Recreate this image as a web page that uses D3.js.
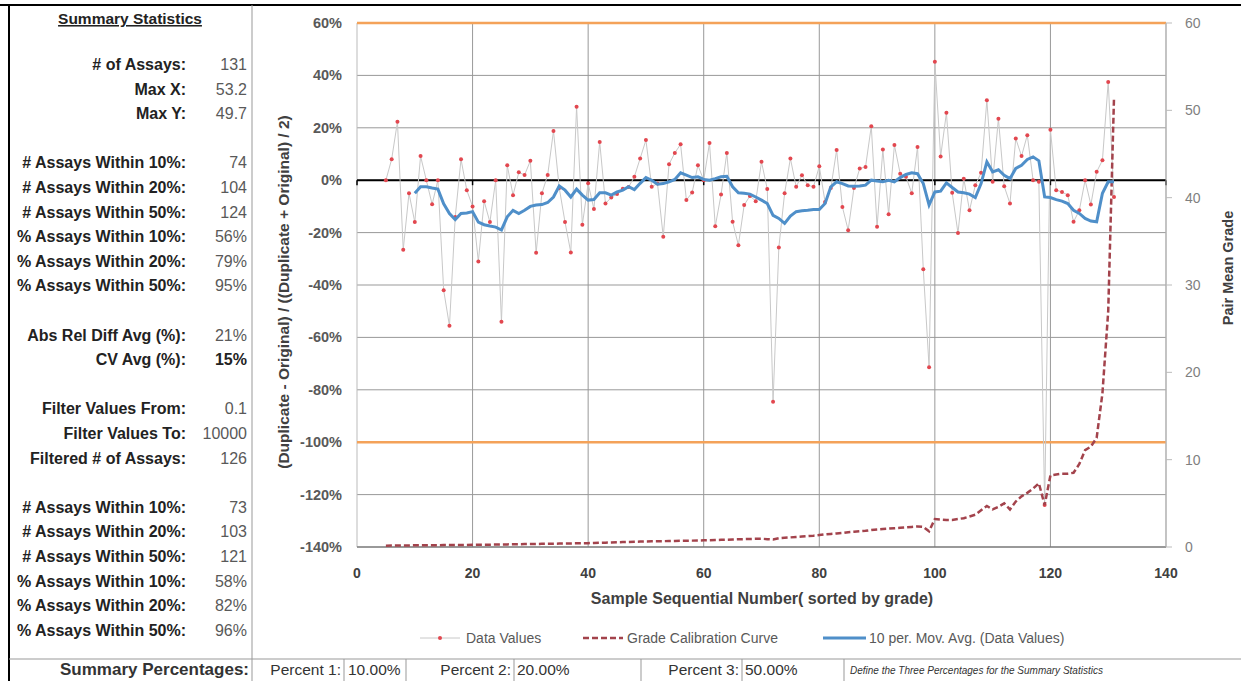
<!DOCTYPE html>
<html>
<head>
<meta charset="utf-8">
<script src="https://cdn.jsdelivr.net/npm/d3@7"></script>
<style>
  body { margin: 0; background: #fff; }
  svg text { font-family: "Liberation Sans", Arial, sans-serif; }
</style>
</head>
<body>
<div id="chart-area"></div>
<script>
// sample numbers 5..131
const sampleX = d3.range(5, 132)
const dataValues = [
  0, 8, 22.3, -26.5, -5, -16, 9.2, 0, -9.2, 0,
  -42, -55.6, -14, 8, -3.8, -10, -31, -8, -16, 0,
  -54, 5.7, -5.7, 3, 2, 7.4, -27.7, -5, 2, 18.8,
  -3, -16, -27.6, 28, -17, -1.2, -11, 14.6, -8.9, -6.6,
  -5.3, -3.3, -2.6, 1.3, 8.3, 15.3, -2.5, -1.3, -21.6, 6.1,
  10.4, 13.7, -7.6, -4.7, 5.7, 0, 14.2, -17.6, -5.5, 10.4,
  -15.9, -24.8, -9.5, -6, -8, 7, -3.4, -84.6, -25.7, -5,
  8.3, -2.5, 1.9, -1.9, -2.5, 5.3, -8.3, -3, 11.5, -10.2,
  -19.1, -3, 4.5, 5, 20.6, -17.8, 11.7, -13, 13.4, 2.5,
  1.3, -5, 12.7, -34, -71.4, 45.2, 9, 25.7, -4.8, -20.2,
  0.6, -11.5, -1.9, 2.8, 30.5, -0.6, 23.5, -2.3, -8.9, 15.9,
  9.2, 17.2, 0, -0.6, -124, 19.3, -3.8, -4.5, -5.7, -15.9,
  -11.5, 0, -9.3, 3.2, 7.6, 37.5, -6.4
]
const gradeCurve = [
  0.15, 0.16, 0.17, 0.18, 0.18, 0.19,
  0.2, 0.2, 0.21, 0.21, 0.22, 0.22, 0.23, 0.23, 0.24, 0.25,
  0.26, 0.27, 0.27, 0.28, 0.29, 0.3, 0.31, 0.32, 0.33, 0.34,
  0.35, 0.36, 0.37, 0.38, 0.39, 0.4, 0.41, 0.42, 0.43, 0.44,
  0.46, 0.48, 0.5, 0.52, 0.54, 0.56, 0.58, 0.6, 0.62, 0.64,
  0.65, 0.66, 0.67, 0.68, 0.7, 0.71, 0.72, 0.73, 0.74, 0.76,
  0.78, 0.8, 0.82, 0.84, 0.86, 0.88, 0.9, 0.92, 0.94, 0.95,
  0.9, 0.85, 1.0, 1.05, 1.1, 1.15, 1.2, 1.25, 1.3, 1.37,
  1.45, 1.5, 1.55, 1.6, 1.7, 1.75, 1.8, 1.85, 1.95, 2.0,
  2.05, 2.1, 2.15, 2.2, 2.25, 2.3, 2.35, 2.3, 1.8, 3.2,
  3.15, 3.1, 3.1, 3.2, 3.3, 3.5, 3.7, 4.2, 4.7, 4.3,
  4.6, 5.0, 4.3, 5.2, 5.8, 6.2, 6.7, 7.3, 4.8, 8.2,
  8.3, 8.4, 8.4, 8.5, 9.5, 11.1, 11.5, 12.5, 17.6, 27, 51.4
]
// moving average, samples 10..131
const movAvgX = d3.range(10, 132)
const movAvg = [
  -5, -2.5, -2.5, -3, -3.4, -9, -12.7, -15, -12.7, -12.5,
  -12, -16, -17, -17.5, -17.9, -19, -14, -11.5, -12.7, -11.5,
  -10, -9.5, -9.3, -8.5, -6.4, -2.2, -3.8, -6.4, -3.4, -5.7,
  -7.6, -7.4, -4.8, -4.8, -5.7, -4.5, -3.8, -2.5, -3.6, -1.2,
  1, 0, -1.5, -1.3, -0.6, 0.3, 2.8, 1.9, 1, 1.3,
  0.3, 0, 0.6, 1.3, 1.5, -2.5, -4.8, -5, -5.3, -6.4,
  -7.6, -8.9, -13.4, -14.6, -16.5, -13.7, -12, -11.7, -11.5, -11.2,
  -11.2, -8.9, -2.5, -0.6, -1.3, -2.2, -2.3, -2.2, -1.9, 0,
  -0.3, -0.6, 0, -0.6, 1, 2.2, 2.8, 2.5, -1.3, -9.5,
  -4.5, -4.2, -1, -2.8, -4.5, -4.8, -5.3, -6.6, -1.3, 7,
  3.2, 4, 1.9, 0.6, 4.5, 5.7, 7.9, 8.9, 7.4, -6.4,
  -6.6, -7.4, -8, -8.9, -11.5, -12.7, -14.6, -15.6, -15.9, -5,
  -0.6, -0.6
]
const limitLines = [60, -100]
const xTicks = [0, 20, 40, 60, 80, 100, 120, 140]
const yTicks = [60, 40, 20, 0, -20, -40, -60, -80, -100, -120, -140]
const y2Ticks = [0, 10, 20, 30, 40, 50, 60]

const statLabels = ["# of Assays:", "Max X:", "Max Y:", "", "# Assays Within 10%:", "# Assays Within 20%:", "# Assays Within 50%:",
  "% Assays Within 10%:", "% Assays Within 20%:", "% Assays Within 50%:", "", "Abs Rel Diff Avg (%):", "CV Avg (%):", "",
  "Filter Values From:", "Filter Values To:", "Filtered # of Assays:", "", "# Assays Within 10%:", "# Assays Within 20%:",
  "# Assays Within 50%:", "% Assays Within 10%:", "% Assays Within 20%:", "% Assays Within 50%:"]
const statValues = ["131", "53.2", "49.7", "", "74", "104", "124", "56%", "79%", "95%", "", "21%", "15%", "",
  "0.1", "10000", "126", "", "73", "103", "121", "58%", "82%", "96%"]
const pctLabels = ["Percent 1:", "Percent 2:", "Percent 3:"]
const pctValues = ["10.00%", "20.00%", "50.00%"]

const W = 1241, H = 681
const svg = d3.select("#chart-area").append("svg")
    .attr("width", W)
    .attr("height", H)

const x = d3.scaleLinear().domain([0, 140]).range([357, 1166])
const y = d3.scaleLinear().domain([-140, 60]).range([547, 23])
const y2 = d3.scaleLinear().domain([0, 60]).range([547, 23])

// sheet frame
svg.append("line").attr("x1", 0).attr("x2", W).attr("y1", 5).attr("y2", 5).attr("stroke", "#000").attr("stroke-width", 2)
svg.append("line").attr("x1", 9).attr("x2", 9).attr("y1", 5).attr("y2", H).attr("stroke", "#000").attr("stroke-width", 2)
svg.append("line").attr("x1", 252).attr("x2", 252).attr("y1", 5).attr("y2", H).attr("stroke", "#999")
svg.append("line").attr("x1", 9).attr("x2", W).attr("y1", 659).attr("y2", 659).attr("stroke", "#999")

// summary panel
svg.append("text").attr("x", 130).attr("y", 24).attr("text-anchor", "middle")
    .attr("font-size", 15.5).attr("font-weight", "bold").attr("fill", "#222")
    .attr("text-decoration", "underline").text("Summary Statistics")
const rows = svg.append("g")
statLabels.forEach((d, i) => {
  if (!d) return
  const yy = 70 + i * 24.6
  rows.append("text").attr("x", 186).attr("y", yy).attr("text-anchor", "end")
      .attr("font-size", 16).attr("font-weight", "bold").attr("fill", "#222").text(d)
  rows.append("text").attr("x", 247).attr("y", yy).attr("text-anchor", "end")
      .attr("font-size", 16).attr("font-weight", d.startsWith("CV") ? "bold" : "normal")
      .attr("fill", d.startsWith("CV") ? "#222" : "#595959").text(statValues[i])
})

// gridlines
const grid = svg.append("g")
grid.selectAll(".hg").data(yTicks).enter().append("line")
    .attr("x1", x(0)).attr("x2", x(140)).attr("y1", d => y(d)).attr("y2", d => y(d))
    .attr("stroke", "#999")
grid.selectAll(".vg").data(xTicks.slice(1)).enter().append("line")
    .attr("x1", d => x(d)).attr("x2", d => x(d)).attr("y1", y(60)).attr("y2", y(-140))
    .attr("stroke", "#999")
grid.append("line").attr("x1", x(0)).attr("x2", x(0)).attr("y1", y(60)).attr("y2", y(-140)).attr("stroke", "#bbb")
grid.append("line").attr("x1", x(0)).attr("x2", x(140)).attr("y1", y(-140)).attr("y2", y(-140)).attr("stroke", "#666")

// orange limit lines
svg.selectAll(".lim").data(limitLines).enter().append("line")
    .attr("x1", x(0)).attr("x2", x(140)).attr("y1", d => y(d)).attr("y2", d => y(d))
    .attr("stroke", "#f4a259").attr("stroke-width", 2.5)

// zero line
svg.append("line").attr("x1", x(0)).attr("x2", x(140)).attr("y1", y(0)).attr("y2", y(0))
    .attr("stroke", "#000").attr("stroke-width", 2)
svg.selectAll(".zt").data(xTicks).enter().append("line")
    .attr("x1", d => x(d)).attr("x2", d => x(d)).attr("y1", y(0)).attr("y2", y(0) + 5)
    .attr("stroke", "#000").attr("stroke-width", 1.5)

// left axis
svg.append("g").selectAll("text").data(yTicks).enter().append("text")
    .attr("x", 342).attr("y", d => y(d) + 5).attr("text-anchor", "end")
    .attr("font-size", 14.5).attr("font-weight", "bold").attr("fill", "#595959")
    .text(d => d + "%")
// right axis
const ra = svg.append("g")
ra.append("line").attr("x1", x(140)).attr("x2", x(140)).attr("y1", y2(60)).attr("y2", y2(0)).attr("stroke", "#bbb")
ra.selectAll("line.t").data(y2Ticks).enter().append("line")
    .attr("x1", x(140)).attr("x2", x(140) + 6).attr("y1", d => y2(d)).attr("y2", d => y2(d)).attr("stroke", "#bbb")
ra.selectAll("text").data(y2Ticks).enter().append("text")
    .attr("x", 1185).attr("y", d => y2(d) + 5)
    .attr("font-size", 14).attr("fill", "#7f7f7f").text(d => d)
// x axis labels
svg.append("g").selectAll("text").data(xTicks).enter().append("text")
    .attr("x", d => x(d)).attr("y", 578).attr("text-anchor", "middle")
    .attr("font-size", 14).attr("font-weight", "bold").attr("fill", "#404040").text(d => d)

svg.append("text").attr("x", 762).attr("y", 604).attr("text-anchor", "middle")
    .attr("font-size", 16).attr("font-weight", "bold").attr("fill", "#404040")
    .text("Sample  Sequential Number( sorted by grade)")
svg.append("text").attr("transform", "translate(289,292) rotate(-90)").attr("text-anchor", "middle")
    .attr("font-size", 15.5).attr("font-weight", "bold").attr("fill", "#404040")
    .text("(Duplicate - Original) / ((Duplicate + Original) / 2)")
svg.append("text").attr("transform", "translate(1233,268) rotate(-90)").attr("text-anchor", "middle")
    .attr("font-size", 14.5).attr("font-weight", "bold").attr("fill", "#404040")
    .text("Pair Mean Grade")

// series
const dataPts = sampleX.map((d, i) => [d, dataValues[i]])
const curvePts = sampleX.map((d, i) => [d, gradeCurve[i]])
const avgPts = movAvgX.map((d, i) => [d, movAvg[i]])

svg.append("path").datum(dataPts)
    .attr("d", d3.line().x(d => x(d[0])).y(d => y(d[1])))
    .attr("fill", "none").attr("stroke", "#c8c8c8").attr("stroke-width", 1)
svg.selectAll(".dot").data(dataPts).enter().append("circle")
    .attr("cx", d => x(d[0])).attr("cy", d => y(d[1])).attr("r", 2)
    .attr("fill", "#e2474f")
svg.append("path").datum(curvePts)
    .attr("d", d3.line().x(d => x(d[0])).y(d => y2(d[1])))
    .attr("fill", "none").attr("stroke", "#a3434c").attr("stroke-width", 2.5)
    .attr("stroke-dasharray", "6,3")
svg.append("path").datum(avgPts)
    .attr("d", d3.line().x(d => x(d[0])).y(d => y(d[1])))
    .attr("fill", "none").attr("stroke", "#4f8fc9").attr("stroke-width", 3)

// legend
const ly = 638
const lg = svg.append("g").attr("font-size", 14).attr("fill", "#595959")
lg.append("line").attr("x1", 420).attr("x2", 460).attr("y1", ly).attr("y2", ly).attr("stroke", "#c8c8c8")
lg.append("circle").attr("cx", 440).attr("cy", ly).attr("r", 2).attr("fill", "#e2474f")
lg.append("text").attr("x", 466).attr("y", ly + 5).text("Data Values")
lg.append("line").attr("x1", 583).attr("x2", 623).attr("y1", ly).attr("y2", ly)
    .attr("stroke", "#a3434c").attr("stroke-width", 2.5).attr("stroke-dasharray", "6,3")
lg.append("text").attr("x", 627).attr("y", ly + 5).text("Grade Calibration Curve")
lg.append("line").attr("x1", 823).attr("x2", 866).attr("y1", ly).attr("y2", ly)
    .attr("stroke", "#4f8fc9").attr("stroke-width", 3)
lg.append("text").attr("x", 869).attr("y", ly + 5).text("10 per. Mov. Avg. (Data Values)")

// bottom percentages row
const br = svg.append("g").attr("font-size", 15.5).attr("fill", "#333")
br.append("text").attr("x", 249).attr("y", 675).attr("text-anchor", "end").attr("font-weight", "bold")
    .attr("font-size", 17).text("Summary Percentages:")
const labEnds = [341, 511, 739]
const valStarts = [348, 517, 745]
pctLabels.forEach((d, i) => {
  br.append("text").attr("x", labEnds[i]).attr("y", 675).attr("text-anchor", "end").text(d)
  br.append("text").attr("x", valStarts[i]).attr("y", 675).text(pctValues[i])
})
;[344, 406, 514, 641, 742, 844].forEach(s => br.append("line")
    .attr("x1", s).attr("x2", s).attr("y1", 659).attr("y2", H).attr("stroke", "#999"))
br.append("text").attr("x", 850).attr("y", 674).attr("font-size", 10).attr("font-style", "italic")
    .text("Define the Three Percentages for the Summary Statistics")
</script>
</body>
</html>
